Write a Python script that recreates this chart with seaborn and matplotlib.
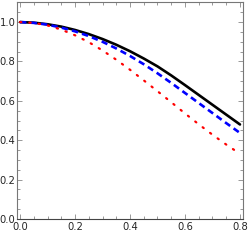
import numpy as np
import pandas as pd
import matplotlib
matplotlib.use("Agg")
import matplotlib.pyplot as plt
import seaborn as sns
from matplotlib.ticker import MultipleLocator

x_vals = [0.0, 0.05, 0.1, 0.15, 0.2, 0.25, 0.3, 0.35, 0.4, 0.45, 0.5, 0.55, 0.6, 0.65, 0.7, 0.75, 0.8]
black_vals = [1.0, 0.997, 0.989, 0.977, 0.960, 0.939, 0.914, 0.885, 0.852, 0.815, 0.775, 0.729, 0.680, 0.630, 0.580, 0.530, 0.480]
blue_vals = [1.0, 0.996, 0.987, 0.972, 0.953, 0.929, 0.900, 0.866, 0.828, 0.786, 0.740, 0.691, 0.640, 0.589, 0.538, 0.487, 0.437]
red_vals = [1.0, 0.996, 0.983, 0.962, 0.933, 0.898, 0.856, 0.809, 0.758, 0.704, 0.649, 0.593, 0.536, 0.481, 0.428, 0.378, 0.331]
x_ticks = [0.0, 0.2, 0.4, 0.6, 0.8]
y_ticks = [0.0, 0.2, 0.4, 0.6, 0.8, 1.0]

sns.set_style("ticks")
plt.rcParams['font.family'] = ['DejaVu Sans']

fig = plt.figure(figsize=(2.49, 2.40), dpi=100)
ax = fig.add_axes([17/249, 1 - 219/240, (243 - 17)/249, (219 - 2)/240])

df = pd.DataFrame({"x": x_vals, "black": black_vals, "blue": blue_vals, "red": red_vals})

sns.lineplot(data=df, x="x", y="black", ax=ax, color="black", linewidth=1.9)
sns.lineplot(data=df, x="x", y="blue", ax=ax, color="#0000ff", linewidth=1.9,
             linestyle=(0, (2.4, 1.6)))
sns.lineplot(data=df, x="x", y="red", ax=ax, color="#ff0000", linewidth=1.6,
             linestyle=(0, (0.6, 3.6)), dash_capstyle="round")

ax.set_xlim(-0.011, 0.811)
ax.set_ylim(0.0, 1.102)
ax.set_xticks(x_ticks)
ax.set_yticks(y_ticks)
ax.set_xticklabels([f"{v:.1f}" for v in x_ticks])
ax.set_yticklabels([f"{v:.1f}" for v in y_ticks])
ax.xaxis.set_minor_locator(MultipleLocator(0.05))
ax.yaxis.set_minor_locator(MultipleLocator(0.05))
ax.set_xlabel("")
ax.set_ylabel("")

ax.tick_params(which="both", direction="in", top=True, right=True, color="#888888",
               labelsize=8, pad=1.0, width=0.6)
ax.tick_params(which="major", length=3.5)
ax.tick_params(which="minor", length=2)
ax.tick_params(axis="x", pad=2.5)
for lab in ax.get_xticklabels() + ax.get_yticklabels():
    lab.set_fontstretch("condensed")
for s in ax.spines.values():
    s.set_color("#777777")
    s.set_linewidth(0.8)
ax.spines["bottom"].set_color("#444444")

fig.savefig("out.png", dpi=100)
